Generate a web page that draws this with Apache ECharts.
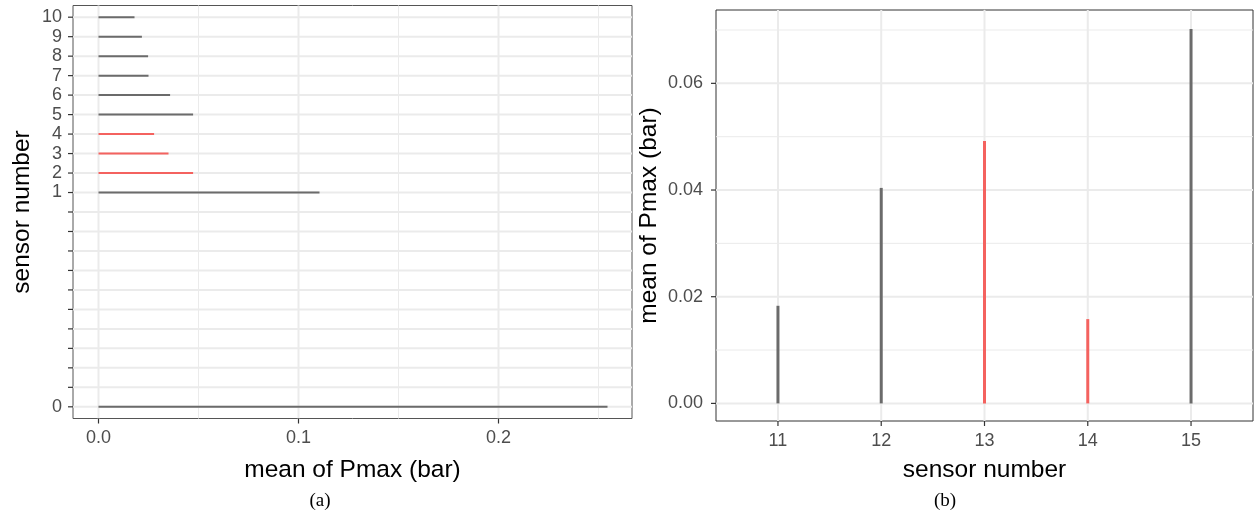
<!DOCTYPE html>
<html>
<head>
<meta charset="utf-8">
<script src="https://cdn.jsdelivr.net/npm/echarts@6/dist/echarts.min.js"></script>
<style>
  html, body { margin: 0; padding: 0; background: #ffffff; }
  #chart { width: 1254px; height: 518px; }
</style>
</head>
<body>
<div id="chart"></div>
<script>
// Panel (a): sensors 0-10, horizontal segments from zero to the mean Pmax
const leftAxisLabels = ['0', '', '', '', '', '', '', '', '', '', '', '1', '2', '3', '4', '5', '6', '7', '8', '9', '10'];
const leftSensors = ['0', '1', '2', '3', '4', '5', '6', '7', '8', '9', '10'];
const leftMeans = [0.2545, 0.1105, 0.0473, 0.0350, 0.0278, 0.0473, 0.0358, 0.0250, 0.0248, 0.0217, 0.0180];
const leftHighlighted = [false, false, true, true, true, false, false, false, false, false, false];
const leftXTicks = [0, 0.1, 0.2];
const leftXMinor = [0.05, 0.15, 0.25];

// Panel (b): sensors 11-15, vertical segments from zero to the mean Pmax
const rightSensors = [11, 12, 13, 14, 15];
const rightMeans = [0.0183, 0.0404, 0.0492, 0.0158, 0.0702];
const rightHighlighted = [false, false, true, true, false];
const rightYTicks = [0, 0.02, 0.04, 0.06];
const rightYMinor = [0.01, 0.03, 0.05, 0.07];

const GREY = '#6B6B6B';
const RED = '#F4625F';
const GRID_COLOR = '#EBEBEB';
const TICK_TEXT = '#4D4D4D';
const FONT = 'Liberation Sans, Arial, Helvetica, sans-serif';

const leftPositions = leftAxisLabels.map((_, i) => i);

// Custom series that draws grid lines across a panel
function gridLines(axisIdx, values, vertical, width) {
  return {
    type: 'custom',
    xAxisIndex: axisIdx,
    yAxisIndex: axisIdx,
    silent: true,
    z: 1,
    data: values.map(v => vertical ? [v, 0] : [0, v]),
    encode: { x: 0, y: 1 },
    renderItem: function (params, api) {
      const cs = params.coordSys;
      if (vertical) {
        const x = api.coord([api.value(0), api.value(1)])[0];
        return { type: 'line', shape: { x1: x, y1: cs.y, x2: x, y2: cs.y + cs.height },
                 style: { stroke: GRID_COLOR, lineWidth: width } };
      }
      const y = api.coord([api.value(0), api.value(1)])[1];
      return { type: 'line', shape: { x1: cs.x, y1: y, x2: cs.x + cs.width, y2: y },
               style: { stroke: GRID_COLOR, lineWidth: width } };
    }
  };
}

// Custom series that draws short outward tick marks on the bottom or left edge
function tickMarks(axisIdx, values, onX) {
  return {
    type: 'custom',
    xAxisIndex: axisIdx,
    yAxisIndex: axisIdx,
    silent: true,
    z: 4,
    data: values.map(v => onX ? [v, 0] : [0, v]),
    encode: { x: 0, y: 1 },
    renderItem: function (params, api) {
      const cs = params.coordSys;
      const p = api.coord([api.value(0), api.value(1)]);
      if (onX) {
        const yb = cs.y + cs.height;
        return { type: 'line', shape: { x1: p[0], y1: yb, x2: p[0], y2: yb + 5 },
                 style: { stroke: '#333333', lineWidth: 1.2 } };
      }
      return { type: 'line', shape: { x1: cs.x - 5, y1: p[1], x2: cs.x, y2: p[1] },
               style: { stroke: '#333333', lineWidth: 1.2 } };
    }
  };
}

const chart = echarts.init(document.getElementById('chart'), null, { renderer: 'canvas' });

chart.setOption({
  animation: false,
  backgroundColor: '#ffffff',
  grid: [
    { left: 73, top: 5.5, width: 559, height: 413, show: true, borderColor: '#555555', borderWidth: 1,
      backgroundColor: 'transparent', containLabel: false, outerBoundsMode: 'none' },
    { left: 716, top: 10, width: 537, height: 411, show: true, borderColor: '#333333', borderWidth: 1,
      backgroundColor: 'transparent', containLabel: false, outerBoundsMode: 'none' }
  ],
  xAxis: [
    {
      type: 'value', gridIndex: 0, min: -0.01275, max: 0.26675,
      axisLine: { show: false }, splitLine: { show: false }, axisTick: { show: false },
      axisLabel: { customValues: leftXTicks, formatter: v => v.toFixed(1), fontSize: 18,
                   fontFamily: FONT, color: TICK_TEXT, margin: 11 }
    },
    {
      type: 'value', gridIndex: 1, min: 10.4, max: 15.6,
      axisLine: { show: false }, splitLine: { show: false }, axisTick: { show: false },
      axisLabel: { customValues: rightSensors, formatter: v => String(Math.round(v)), fontSize: 18,
                   fontFamily: FONT, color: TICK_TEXT, margin: 11 }
    }
  ],
  yAxis: [
    {
      type: 'value', gridIndex: 0, min: -0.6, max: 20.6,
      axisLine: { show: false }, splitLine: { show: false }, axisTick: { show: false },
      axisLabel: { customValues: leftPositions, formatter: v => leftAxisLabels[Math.round(v)],
                   fontSize: 18, fontFamily: FONT, color: TICK_TEXT, margin: 11 }
    },
    {
      type: 'value', gridIndex: 1, min: -0.0033, max: 0.07375,
      axisLine: { show: false }, splitLine: { show: false }, axisTick: { show: false },
      axisLabel: { customValues: rightYTicks, formatter: v => v.toFixed(2),
                   fontSize: 18, fontFamily: FONT, color: TICK_TEXT, margin: 13 }
    }
  ],
  series: [
    gridLines(0, leftPositions, false, 2),
    gridLines(0, leftXMinor, true, 1),
    gridLines(0, leftXTicks, true, 2),
    gridLines(1, rightYMinor, false, 1),
    gridLines(1, rightYTicks, false, 2),
    gridLines(1, rightSensors, true, 2),
    tickMarks(0, leftXTicks, true),
    tickMarks(0, leftPositions, false),
    tickMarks(1, rightSensors, true),
    tickMarks(1, rightYTicks, false),
    {
      type: 'custom', xAxisIndex: 0, yAxisIndex: 0, z: 3, silent: true,
      data: leftSensors.map((s, i) => [leftMeans[i], leftAxisLabels.indexOf(s), leftHighlighted[i] ? 1 : 0]),
      encode: { x: 0, y: 1 },
      renderItem: function (params, api) {
        const pos = api.value(1);
        const a = api.coord([0, pos]);
        const b = api.coord([api.value(0), pos]);
        return { type: 'line', shape: { x1: a[0], y1: a[1], x2: b[0], y2: b[1] },
                 style: { stroke: api.value(2) ? RED : GREY, lineWidth: 2 } };
      }
    },
    {
      type: 'custom', xAxisIndex: 1, yAxisIndex: 1, z: 3, silent: true,
      data: rightSensors.map((s, i) => [s, rightMeans[i], rightHighlighted[i] ? 1 : 0]),
      encode: { x: 0, y: 1 },
      renderItem: function (params, api) {
        const s = api.value(0);
        const a = api.coord([s, 0]);
        const b = api.coord([s, api.value(1)]);
        return { type: 'line', shape: { x1: a[0], y1: a[1], x2: b[0], y2: b[1] },
                 style: { stroke: api.value(2) ? RED : GREY, lineWidth: 3 } };
      }
    }
  ],
  graphic: [
    { type: 'text', x: 352.5, y: 470, style: { text: 'mean of Pmax (bar)', font: '24.5px ' + FONT,
      fill: '#000', align: 'center', verticalAlign: 'middle' } },
    { type: 'text', x: 22, y: 212, rotation: Math.PI / 2, style: { text: 'sensor number', font: '24.5px ' + FONT,
      fill: '#000', align: 'center', verticalAlign: 'middle' } },
    { type: 'text', x: 984.5, y: 470, style: { text: 'sensor number', font: '24.5px ' + FONT,
      fill: '#000', align: 'center', verticalAlign: 'middle' } },
    { type: 'text', x: 649, y: 215.5, rotation: Math.PI / 2, style: { text: 'mean of Pmax (bar)', font: '24.5px ' + FONT,
      fill: '#000', align: 'center', verticalAlign: 'middle' } },
    { type: 'text', x: 320, y: 501, style: { text: '(a)', font: '19px Liberation Serif, DejaVu Serif, serif',
      fill: '#000', align: 'center', verticalAlign: 'middle' } },
    { type: 'text', x: 945, y: 501, style: { text: '(b)', font: '19px Liberation Serif, DejaVu Serif, serif',
      fill: '#000', align: 'center', verticalAlign: 'middle' } }
  ]
});
</script>
</body>
</html>
